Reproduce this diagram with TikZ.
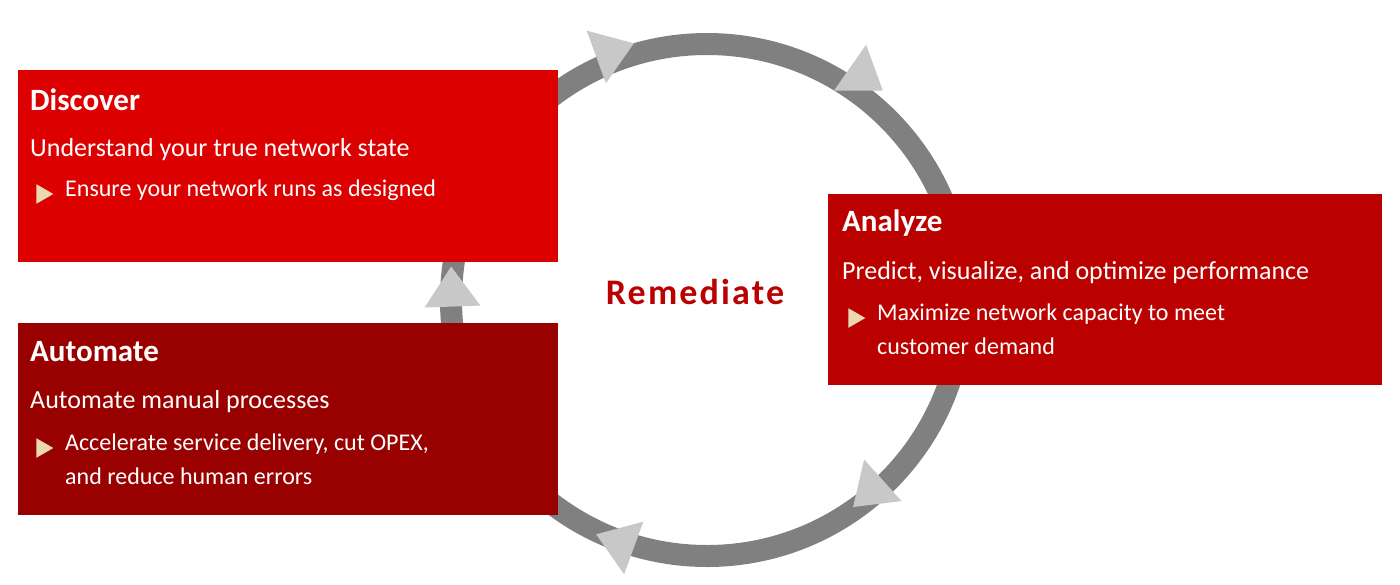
\documentclass[tikz,border=0pt]{standalone}
\usepackage{fontspec}
\setmainfont{Carlito}
\usetikzlibrary{shapes.geometric}
\definecolor{cDisc}{HTML}{DD0000}
\definecolor{cAuto}{HTML}{990000}
\definecolor{cAna}{HTML}{BB0000}
\definecolor{ring}{HTML}{808080}
\definecolor{head}{HTML}{C8C8C8}
\definecolor{bul}{HTML}{EAD9B0}
\begin{document}
\begin{tikzpicture}[x=1pt,y=-1pt,
  box/.style={draw=none,inner sep=0},
  ttl/.style={anchor=west,text=white,font=\fontsize{31}{31}\selectfont\bfseries,inner sep=0},
  sub/.style={anchor=west,text=white,font=\fontsize{26}{26}\selectfont,inner sep=0},
  btx/.style={anchor=north west,text=white,font=\fontsize{24}{34}\selectfont,inner sep=0,align=left},
  bullet/.style={isosceles triangle,isosceles triangle apex angle=60,fill=bul,minimum size=17pt,inner sep=0},
  arr/.style={isosceles triangle,isosceles triangle apex angle=70,fill=head,minimum size=40pt,inner sep=0}]
\useasboundingbox (0,0) rectangle (1400,584);
\draw[ring,line width=22pt] (707,300) circle[radius=256];
\node[arr,rotate=20] (a1) at (610,52) {};
\node[arr,rotate=-35] (a2) at (862,76) {};
\node[arr,rotate=-138] (a3) at (872,490) {};
\node[arr,rotate=160] (a4) at (620,543) {};
% boxes
\fill[cDisc] (18,70) rectangle (558,262);
\fill[cAuto] (18,323) rectangle (558,515);
\fill[cAna] (828,194) rectangle (1382,385);
\node[arr,rotate=92] (a5) at (452,292) {};
\fill[cAuto] (18,323) rectangle (558,515);
% Discover
\node[ttl] (dt) at (30,100) {Discover};
\node[sub] (ds) at (30,150) {Understand your true network state};
\node[bullet] (db) at (42,194) {};
\node[btx] (dx) at (65,180) {Ensure your network runs as designed};
% Automate
\node[ttl] (at) at (30,352) {Automate};
\node[sub] (as) at (30,402) {Automate manual processes};
\node[bullet] (ab) at (42,448) {};
\node[btx] (ax) at (65,434) {Accelerate service delivery, cut OPEX,\\and reduce human errors};
% Analyze
\node[ttl] (nt) at (842,223) {Analyze};
\node[sub] (ns) at (842,273) {Predict, visualize, and optimize performance};
\node[bullet] (nb) at (854,318) {};
\node[btx] (nx) at (877,304) {Maximize network capacity to meet\\customer demand};
% center
\node[text=cAna,font=\fontsize{36}{36}\selectfont\bfseries,inner sep=0] (rm) at (695,292) {\addfontfeature{LetterSpace=6}Remediate};
\end{tikzpicture}
\end{document}
